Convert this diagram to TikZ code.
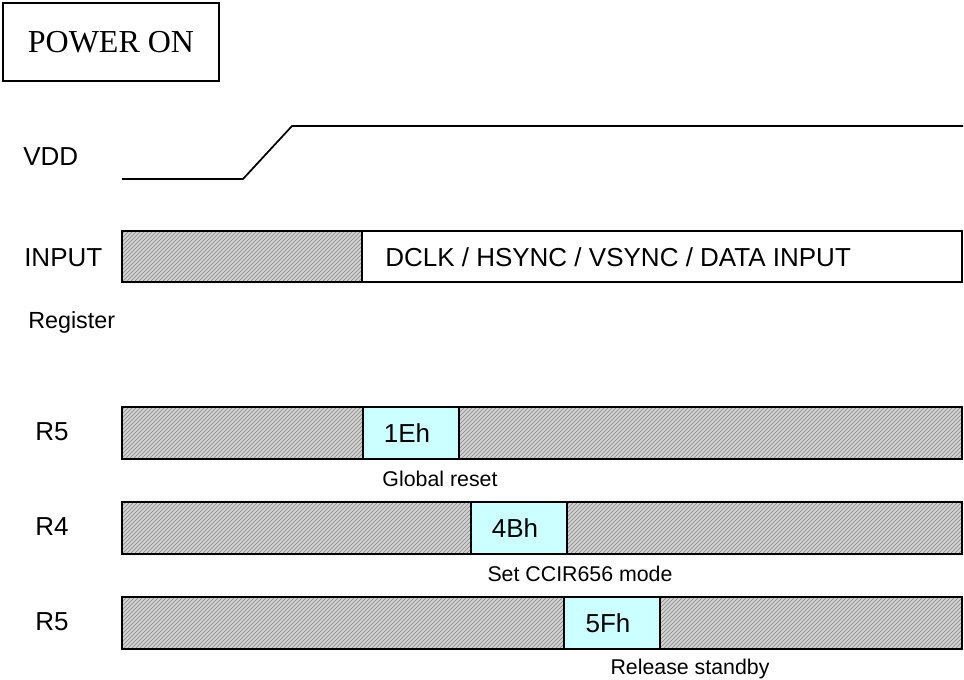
\documentclass[tikz,border=0pt]{standalone}
\usepackage{fontspec}
\setmainfont{Liberation Serif}
\setsansfont{Liberation Sans}
\usetikzlibrary{patterns}
\definecolor{RegCyan}{HTML}{CCFFFF}
\tikzset{
  hatched/.style={draw=black,line width=1.5pt,preaction={fill=gray!35},
    pattern=north east lines,pattern color=gray!95},
  sig/.style={anchor=west,inner sep=0pt},
  note/.style={font=\sffamily\fontsize{16}{18}\selectfont}
}

\begin{document}
\begin{tikzpicture}[x=0.75pt,y=-0.75pt,font=\sffamily\fontsize{19.5}{22}\selectfont]
  \useasboundingbox (0,0) rectangle (964,680);
  % power on
  \node[draw,line width=1.5pt,minimum width=162pt,minimum height=58.5pt,
    font=\rmfamily\fontsize{24}{28}\selectfont] (pwr) at (111,42) {POWER ON};
  % supply
  \node[sig] (vdd) at (23,157) {VDD};
  \draw[line width=1.3pt] (122,179) -- (243,179) -- (292,126) -- (963,126);
  % input
  \node[sig] (inp) at (24,258) {INPUT};
  \draw[hatched] (122,231) rectangle (362,282);
  \draw[line width=1.5pt] (362,231) rectangle (962,282);
  \node[sig] (intxt) at (385,257) {DCLK / HSYNC / VSYNC / DATA INPUT};
  \node[sig,font=\sffamily\fontsize{17.5}{20}\selectfont] (reg) at (28,322) {Register};
  % register writes
  \foreach \y/\r/\x/\v/\t/\nx [count=\i] in {407/R5/363/1Eh/Global reset/440,
      502/R4/471/4Bh/Set CCIR656 mode/580,
      597/R5/564/5Fh/Release standby/690}{
    \draw[hatched] (122,\y) rectangle (962,\y+52);
    \filldraw[fill=RegCyan,line width=1.5pt] (\x,\y) rectangle (\x+96,\y+52);
    \node (val\i) at (\x+44,\y+26) {\v};
    \node[sig] (r\i) at (35,\y+25) {\r};
    \node[note] (note\i) at (\nx,\y+72) {\t};
  }
\end{tikzpicture}
\end{document}
